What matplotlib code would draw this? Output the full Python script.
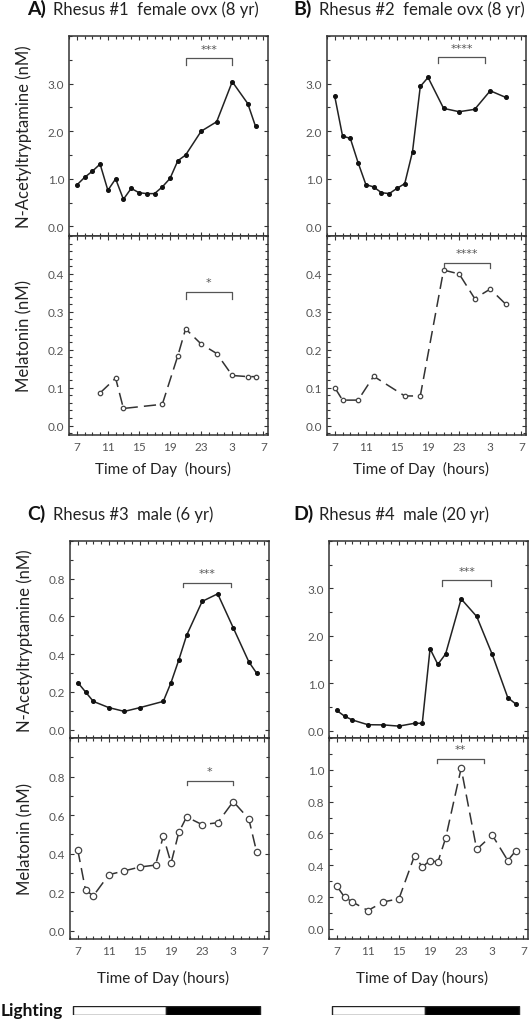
import numpy as np
import matplotlib
matplotlib.use('Agg')
import matplotlib.pyplot as plt
from matplotlib.ticker import MultipleLocator, FixedLocator

plt.rcParams['font.family'] = ['Lato', 'DejaVu Sans']

# hours of day (25..31 = 1..7 next morning)
tick_hours = [7, 11, 15, 19, 23, 27, 31]
tick_labels = ['7', '11', '15', '19', '23', '3', '7']

# Panel A - Rhesus #1
a_nat_h = [7, 8, 9, 10, 11, 12, 13, 14, 15, 16, 17, 18, 19, 20, 21, 23, 25, 27, 29, 30]
a_nat = [0.87, 1.03, 1.16, 1.31, 0.76, 1.0, 0.57, 0.80, 0.71, 0.69, 0.69, 0.83, 1.01,
         1.38, 1.50, 2.0, 2.2, 3.04, 2.58, 2.1]
a_mel_h = [10, 12, 13, 18, 20, 21, 23, 25, 27, 29, 30]
a_mel = [0.086, 0.125, 0.045, 0.056, 0.184, 0.255, 0.215, 0.19, 0.132, 0.129, 0.129]

# Panel B - Rhesus #2
b_nat_h = [7, 8, 9, 10, 11, 12, 13, 14, 15, 16, 17, 18, 19, 21, 23, 25, 27, 29]
b_nat = [2.73, 1.90, 1.85, 1.34, 0.88, 0.83, 0.71, 0.69, 0.80, 0.90, 1.57, 2.94, 3.13,
         2.48, 2.41, 2.46, 2.85, 2.71]
b_mel_h = [7, 8, 10, 12, 16, 18, 21, 23, 25, 27, 29]
b_mel = [0.10, 0.067, 0.067, 0.13, 0.078, 0.078, 0.41, 0.40, 0.335, 0.36, 0.32]

# Panel C - Rhesus #3
c_nat_h = [7, 8, 9, 11, 13, 15, 18, 19, 20, 21, 23, 25, 27, 29, 30]
c_nat = [0.25, 0.20, 0.15, 0.117, 0.097, 0.117, 0.15, 0.25, 0.37, 0.50, 0.68, 0.72,
         0.54, 0.36, 0.30]
c_mel_h = [7, 8, 9, 11, 13, 15, 17, 18, 19, 20, 21, 23, 25, 27, 29, 30]
c_mel = [0.418, 0.21, 0.18, 0.29, 0.31, 0.33, 0.34, 0.49, 0.35, 0.51, 0.59, 0.55, 0.56,
         0.67, 0.58, 0.41]

# Panel D - Rhesus #4
d_nat_h = [7, 8, 9, 11, 13, 15, 17, 18, 19, 20, 21, 23, 25, 27, 29, 30]
d_nat = [0.43, 0.31, 0.23, 0.13, 0.126, 0.10, 0.16, 0.16, 1.73, 1.40, 1.62, 2.78, 2.41,
         1.61, 0.70, 0.57]
d_mel_h = [7, 8, 9, 11, 13, 15, 17, 18, 19, 20, 21, 23, 25, 27, 29, 30]
d_mel = [0.27, 0.20, 0.17, 0.116, 0.17, 0.19, 0.46, 0.39, 0.43, 0.42, 0.57, 1.01, 0.50,
         0.59, 0.43, 0.49]

# significance brackets: (x0, x1, y, leg, stars)
brackets = {
    'a_nat': (21, 27, 3.53, 3.40, '***'),
    'a_mel': (21, 27, 0.353, 0.335, '*'),
    'b_nat': (20.3, 26.3, 3.55, 3.43, '****'),
    'b_mel': (21, 27, 0.43, 0.415, '****'),
    'c_nat': (20.5, 26.7, 0.78, 0.756, '***'),
    'c_mel': (21, 27, 0.776, 0.758, '*'),
    'd_nat': (20.6, 26.8, 3.17, 3.06, '***'),
    'd_mel': (19.9, 26.0, 1.07, 1.04, '**'),
}

# lighting schedule (hours)
light_on, light_off, light_end = 6.4, 18.4, 30.4

W, H = 532, 1020
fig = plt.figure(figsize=(W / 100, H / 100), dpi=100)

def px_axes(left, top, width, height):
    return fig.add_axes([left / W, 1 - (top + height) / H, width / W, height / H])

def style(ax, ylim, yticks, yminor, show_xlabels):
    ax.set_xlim(6, 31.6)
    ax.set_ylim(*ylim)
    ax.xaxis.set_major_locator(FixedLocator(tick_hours))
    ax.xaxis.set_minor_locator(MultipleLocator(1))
    ax.yaxis.set_major_locator(FixedLocator(yticks))
    ax.yaxis.set_minor_locator(MultipleLocator(yminor))
    ax.set_yticklabels(['%.1f' % v for v in yticks])
    if show_xlabels:
        ax.set_xticklabels(tick_labels)
    else:
        ax.set_xticklabels([])
    ax.tick_params(which='both', direction='in', top=True, right=True,
                   color='#333333', width=0.8, labelsize=8.5, labelcolor='#555555')
    ax.tick_params(which='major', length=3)
    ax.tick_params(which='minor', length=2.5)
    ax.tick_params(axis='x', pad=4)
    for s in ax.spines.values():
        s.set_color('#333333')
        s.set_linewidth(1.1)

def bracket(ax, key):
    x0, x1, y, leg, stars = brackets[key]
    ax.plot([x0, x0, x1, x1], [leg, y, y, leg], color='#555555', lw=0.9)
    ax.annotate(stars, ((x0 + x1) / 2, y), xytext=(0, 3.5), textcoords='offset points',
                ha='center', va='bottom', fontsize=8, color='#555555',
                family='DejaVu Sans')

def nat_line(ax, h, v):
    ax.plot(h, v, color='#222222', lw=1.1, marker='o', ms=2.6,
            markerfacecolor='#111111', markeredgecolor='#111111')

def mel_line(ax, h, v, ms):
    ax.plot(h, v, color='#333333', lw=1.1, dashes=(8, 4), marker='o', ms=ms,
            markerfacecolor='white', markeredgecolor='#444444', markeredgewidth=0.9)

panels = [
    # letter, title, left, top, heights, data, ylims/ticks, ylabel, xlabel, marker size
    ('A)', 'Rhesus #1  female ovx (8 yr)', 69, 37, 200, 199, a_nat_h, a_nat, a_mel_h, a_mel,
     (-0.2, 4.0), [0, 1, 2, 3], 0.5, (-0.025, 0.5), [0, 0.1, 0.2, 0.3, 0.4], 0.02,
     True, 'Time of Day  (hours)', 3.2, 'a'),
    ('B)', 'Rhesus #2  female ovx (8 yr)', 327, 37, 200, 199, b_nat_h, b_nat, b_mel_h, b_mel,
     (-0.2, 4.0), [0, 1, 2, 3], 0.5, (-0.025, 0.5), [0, 0.1, 0.2, 0.3, 0.4], 0.02,
     False, 'Time of Day  (hours)', 3.2, 'b'),
    ('C)', 'Rhesus #3  male (6 yr)', 70, 542, 197, 201, c_nat_h, c_nat, c_mel_h, c_mel,
     (-0.044, 1.0), [0, 0.2, 0.4, 0.6, 0.8], 0.1, (-0.044, 1.0), [0, 0.2, 0.4, 0.6, 0.8], 0.1,
     True, 'Time of Day (hours)', 4.6, 'c'),
    ('D)', 'Rhesus #4  male (20 yr)', 329, 542, 197, 201, d_nat_h, d_nat, d_mel_h, d_mel,
     (-0.15, 4.0), [0, 1, 2, 3], 0.5, (-0.063, 1.2), [0, 0.2, 0.4, 0.6, 0.8, 1.0], 0.1,
     False, 'Time of Day (hours)', 4.6, 'd'),
]

for (letter, title, left, top, h_nat, h_mel, nh, nv, mh, mv, nylim, nyt, nym,
     mylim, myt, mym, ylab, xlab, ms, key) in panels:
    ax1 = px_axes(left, top, 199, h_nat)
    ax2 = px_axes(left, top + h_nat, 199, h_mel)
    nat_line(ax1, nh, nv)
    mel_line(ax2, mh, mv, ms)
    style(ax1, nylim, nyt, nym, False)
    style(ax2, mylim, myt, mym, True)
    bracket(ax1, key + '_nat')
    bracket(ax2, key + '_mel')
    if ylab:
        ax1.set_ylabel('N-Acetyltryptamine (nM)', fontsize=12, color='#222222')
        ax2.set_ylabel('Melatonin (nM)', fontsize=12, color='#222222')
        ax1.yaxis.set_label_coords(-0.185, 0.5)
        ax2.yaxis.set_label_coords(-0.185, 0.5)
    ax2.set_xlabel(xlab, fontsize=11, color='#222222')
    ax2.xaxis.set_label_coords(0.47, -0.13 if key in 'ab' else -0.155)
    fx = 27 if left < 200 else 293
    fy = top - 22
    fig.text(fx / W, 1 - fy / H, letter, fontsize=14, fontweight='bold',
             color='#111111', va='baseline')
    fig.text((fx + 26) / W, 1 - fy / H, title, fontsize=12, color='#222222',
             va='baseline')

    if key in 'cd':
        bar = px_axes(left, 1007, 199, 9)
        bar.barh(0, light_off - light_on, left=light_on, height=1, color='white',
                 edgecolor='#222222', lw=1)
        bar.barh(0, light_end - light_off, left=light_off, height=1, color='black',
                 edgecolor='#222222', lw=1)
        bar.set_xlim(6, 31.6)
        bar.set_ylim(-0.5, 0.5)
        bar.axis('off')

fig.text(1 / W, 1 - 1016 / H, 'Lighting', fontsize=12.5, fontweight='bold',
         color='#111111', va='baseline')

fig.savefig('out.png', dpi=100)
